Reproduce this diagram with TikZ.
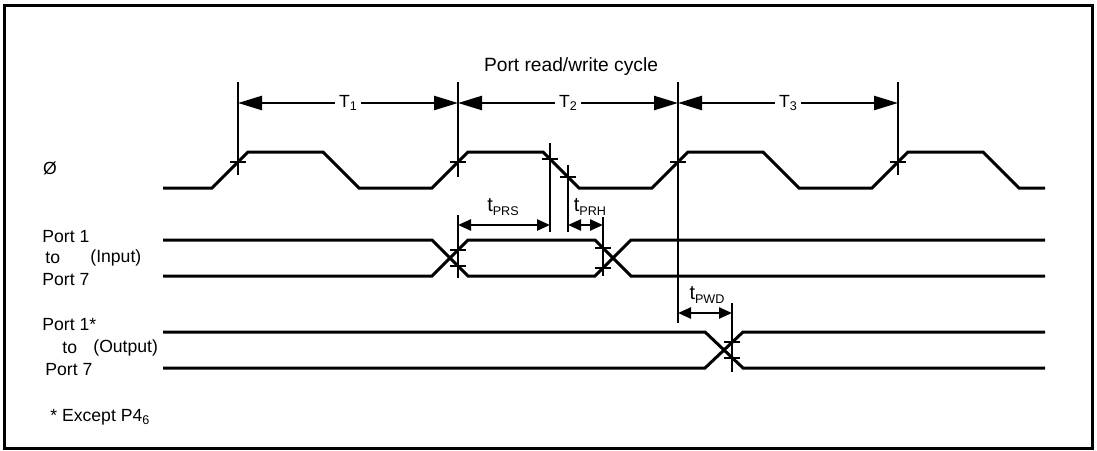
\documentclass[tikz,border=0pt]{standalone}
\usepackage{fontspec}
\setmainfont{Liberation Sans}
\usetikzlibrary{arrows.meta}

\newcommand{\lowtxt}[1]{\raisebox{-0.2em}{\fontsize{6.3}{7}\selectfont #1}}

\tikzset{
  wave/.style={line width=1.5pt},
  guide/.style={line width=1.3pt},
  dimbig/.style={line width=1.2pt,{Triangle[length=12pt,width=7pt]}-{Triangle[length=12pt,width=7pt]}},
  dimsmall/.style={line width=1.2pt,{Triangle[length=6.5pt,width=5.5pt]}-{Triangle[length=6.5pt,width=5.5pt]}},
  lbl/.style={font=\fontsize{8.8}{10}\selectfont,inner sep=0pt},
}

\begin{document}
\begin{tikzpicture}[x=0.5pt,y=-0.5pt]
  \useasboundingbox (0,0) rectangle (1097,450);
  \draw[line width=1.5pt] (4,5) rectangle (1092,448);

  % signal names
  \node[lbl] (clk) at (50,168) {Ø};
  \node[lbl,anchor=west] (in1) at (42,237) {Port 1};
  \node[lbl,anchor=west] (into) at (45,258) {to};
  \node[lbl,anchor=west] (inlab) at (90,258) {(Input)};
  \node[lbl,anchor=west] (in7) at (42,280) {Port 7};
  \node[lbl,anchor=west] (out1) at (42,325) {Port 1*};
  \node[lbl,anchor=west] (outto) at (62,348) {to};
  \node[lbl,anchor=west] (outlab) at (93,348) {(Output)};
  \node[lbl,anchor=west] (out7) at (45,370) {Port 7};
  \node[lbl,anchor=west] (note) at (50,417) {* Except P4\lowtxt{6}};

  \node[lbl,font=\fontsize{9.6}{11}\selectfont] (title) at (571,67) {Port read/write cycle};

  % clock
  \draw[wave] (163,188) -- (212,188) -- (248,152) -- (323,152) -- (359,188)
    -- (432,188) -- (468,152) -- (543,152) -- (579,188)
    -- (652,188) -- (688,152) -- (763,152) -- (799,188)
    -- (872,188) -- (908,152) -- (983,152) -- (1019,188) -- (1045,188);

  % port input
  \draw[wave] (163,240) -- (432,240) -- (468,276) -- (595,276) -- (631,240) -- (1045,240);
  \draw[wave] (163,276) -- (432,276) -- (468,240) -- (595,240) -- (631,276) -- (1045,276);

  % port output
  \draw[wave] (163,332) -- (705,332) -- (743,368) -- (1045,368);
  \draw[wave] (163,368) -- (705,368) -- (743,332) -- (1045,332);

  % reference lines
  \draw[guide] (238,82) -- (238,175);
  \draw[guide] (458,82) -- (458,177);
  \draw[guide] (678,82) -- (678,323);
  \draw[guide] (898,82) -- (898,175);
  \draw[guide] (550,143) -- (550,232);
  \draw[guide] (568,165) -- (568,232);
  \draw[guide] (458,215) -- (458,278);
  \draw[guide] (603,217) -- (603,276);
  \draw[guide] (732,303) -- (732,372);

  \foreach \x/\y in {238/162,458/162,678/162,898/162,550/159,568/177,
                     458/250,458/266,603/248,603/268,732/342,732/358}
    \draw[guide] (\x-8,\y) -- (\x+8,\y);

  % cycle times
  \draw[dimbig] (238,103) -- (458,103);
  \draw[dimbig] (458,103) -- (678,103);
  \draw[dimbig] (678,103) -- (898,103);
  \node[lbl,fill=white,inner sep=2pt] (tone) at (348,103) {T\lowtxt{1}};
  \node[lbl,fill=white,inner sep=2pt] (ttwo) at (568,103) {T\lowtxt{2}};
  \node[lbl,fill=white,inner sep=2pt] (tthree) at (788,103) {T\lowtxt{3}};

  % setup, hold, delay
  \draw[dimsmall] (458,225) -- (550,225);
  \draw[dimsmall] (568,225) -- (603,225);
  \draw[dimsmall] (678,313) -- (732,313);
  \node[lbl,font=\fontsize{10}{11}\selectfont] (tprs) at (503,207) {t\lowtxt{PRS}};
  \node[lbl,font=\fontsize{10}{11}\selectfont] (tprh) at (590,207) {t\lowtxt{PRH}};
  \node[lbl,font=\fontsize{10}{11}\selectfont] (tpwd) at (707,295) {t\lowtxt{PWD}};
\end{tikzpicture}
\end{document}
